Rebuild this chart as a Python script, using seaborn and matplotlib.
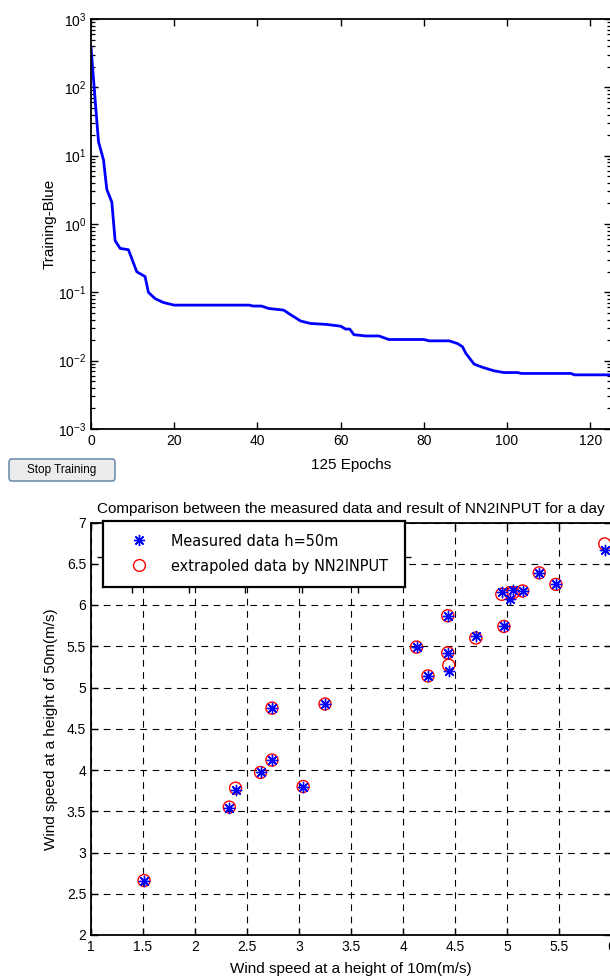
import matplotlib
matplotlib.use("Agg")
import matplotlib.pyplot as plt
import matplotlib.ticker as mticker
import seaborn as sns
import numpy as np
from matplotlib import font_manager
from matplotlib.patches import FancyBboxPatch
from matplotlib.lines import Line2D

# training curve (vertices of the plotted polyline)
epochs = [0, 1, 1.8, 3, 3.8, 5, 5.8, 7, 9, 11, 13, 13.8, 15.4, 17.4, 20, 38, 39, 41,
          42.7, 46.3, 48, 50.4, 52.8, 56.4, 60, 61.2, 62.2, 63.2, 66, 69.2, 71.6, 80,
          81.3, 86.1, 88.1, 89.3, 90.1, 92.1, 94.1, 96.9, 99.3, 102.6, 103.4, 115.4,
          116.2, 125]
perf = [390, 65, 16, 8.7, 3.2, 2.1, 0.57, 0.44, 0.42, 0.20, 0.17, 0.10, 0.081, 0.071,
        0.065, 0.065, 0.063, 0.063, 0.058, 0.055, 0.047, 0.038, 0.035, 0.034, 0.032,
        0.029, 0.029, 0.024, 0.023, 0.023, 0.0204, 0.0204, 0.0195, 0.0195, 0.0178,
        0.016, 0.0128, 0.0089, 0.0080, 0.0071, 0.0067, 0.0067, 0.0065, 0.0065,
        0.0062, 0.0062]

# wind speed comparison
wind10 = [1.51, 2.33, 2.39, 2.63, 2.74, 2.74, 3.04, 3.25, 4.13, 4.24, 4.43, 4.44,
          4.43, 4.70, 4.97, 4.95, 5.03, 5.06, 5.15, 5.31, 5.47, 5.94]
measured50 = [2.66, 3.54, 3.76, 3.97, 4.12, 4.75, 3.80, 4.80, 5.49, 5.14, 5.42, 5.20,
              5.87, 5.62, 5.74, 6.16, 6.07, 6.18, 6.17, 6.39, 6.25, 6.67]
extrap50 = [2.66, 3.55, 3.78, 3.97, 4.12, 4.75, 3.80, 4.80, 5.49, 5.14, 5.42, 5.27,
            5.87, 5.60, 5.74, 6.13, 6.15, 6.15, 6.17, 6.39, 6.25, 6.74]
x_ticklabels = ['1', '1.5', '2', '2.5', '3', '3.5', '4', '4.5', '5', '5.5', '6']
y_ticklabels = ['2', '2.5', '3', '3.5', '4', '4.5', '5', '5.5', '6', '6.5', '7']

sns.set_theme(style="ticks")
plt.rcParams['font.family'] = ['Liberation Sans', 'DejaVu Sans']
plt.rcParams.update({
    'xtick.direction': 'in', 'ytick.direction': 'in',
    'xtick.major.size': 5, 'ytick.major.size': 5,
    'xtick.minor.size': 3, 'ytick.minor.size': 3,
    'xtick.major.width': 1.0, 'ytick.major.width': 1.0,
    'xtick.minor.width': 0.9, 'ytick.minor.width': 0.9,
    'xtick.color': 'black', 'ytick.color': 'black',
    'axes.edgecolor': 'black', 'axes.linewidth': 1.3,
    'xtick.labelsize': 10, 'ytick.labelsize': 10,
    'text.color': 'black', 'axes.labelcolor': 'black',
    'axes.unicode_minus': False,
})

# a narrow face for the legend, if one is around
narrow = None
for f in font_manager.fontManager.ttflist:
    fn = f.fname.lower()
    if 'sansnarrow-regular' in fn or 'sanscondensed.ttf' in fn:
        narrow = f
        if 'narrow' in fn:
            break
if narrow is not None and 'narrow' in narrow.fname.lower():
    leg_font = font_manager.FontProperties(fname=narrow.fname, size=13.5)
elif narrow is not None:
    leg_font = font_manager.FontProperties(fname=narrow.fname, size=11.6)
else:
    leg_font = font_manager.FontProperties(family='Liberation Sans', size=12)

W, H = 610, 977
fig = plt.figure(figsize=(W / 100, H / 100), dpi=100)

def box(x0, y0, x1, y1):
    # pixel box (top-left origin) -> figure fraction
    return [x0 / W, 1 - y1 / H, (x1 - x0) / W, (y1 - y0) / H]

# top: training performance
ax1 = fig.add_axes(box(91, 19, 611, 429))
sns.lineplot(x=epochs, y=perf, ax=ax1, color=(0, 0, 1), linewidth=2.0,
             sort=False, estimator=None)
ax1.set_yscale('log')
ax1.set_xlim(0, 125)
ax1.set_ylim(1e-3, 1e3)
ax1.set_xticks([0, 20, 40, 60, 80, 100, 120])
ax1.yaxis.set_major_locator(mticker.LogLocator(base=10, numticks=10))
ax1.yaxis.set_minor_locator(mticker.LogLocator(base=10, subs=np.arange(2, 10), numticks=20))
ax1.yaxis.set_minor_formatter(mticker.NullFormatter())
ax1.tick_params(which='both', top=True, right=True)
ax1.set_ylabel('Training-Blue', fontsize=11, labelpad=1)
ax1.set_xlabel('125 Epochs', fontsize=11, labelpad=7)

# stop training button
btn = FancyBboxPatch((9 / W, 1 - 481 / H), 106 / W, 22 / H,
                     boxstyle="round,pad=0,rounding_size=0.004",
                     transform=fig.transFigure, facecolor='#ececec',
                     edgecolor='#7190b0', linewidth=1.2)
fig.patches.append(btn)
fig.text(62 / W, 1 - 470 / H, 'Stop Training', ha='center', va='center', fontsize=8.5)

# bottom: comparison scatter
ax2 = fig.add_axes(box(91, 522.5, 611, 935))
sns.scatterplot(x=wind10, y=extrap50, ax=ax2, marker='o', s=75, color='red',
                facecolors='none', edgecolors='red', linewidths=1.0, zorder=3)
sns.scatterplot(x=wind10, y=measured50, ax=ax2, marker=(8, 2, 0), s=55, color='blue',
                linewidths=1.0, zorder=4)
ax2.set_xlim(1, 6)
ax2.set_ylim(2, 7)
ax2.set_xticks(np.arange(1, 6.01, 0.5))
ax2.set_yticks(np.arange(2, 7.01, 0.5))
ax2.set_xticklabels(x_ticklabels)
ax2.set_yticklabels(y_ticklabels)
ax2.tick_params(top=True, right=True)
ax2.grid(True, color='black', linestyle=(0, (6, 5)), linewidth=0.8)
ax2.set_xlabel('Wind speed at a height of 10m(m/s)', fontsize=11, labelpad=6)
ax2.set_ylabel('Wind speed at a height of 50m(m/s)', fontsize=11, labelpad=6)
ax2.set_title('Comparison between the measured data and result of NN2INPUT for a day',
              fontsize=11, pad=7)

# legend box (drawn as its own small axes, like the MATLAB legend)
axl = fig.add_axes(box(103, 521, 405, 587))
axl.set_xlim(0, 1)
axl.set_ylim(0, 1)
for s in axl.spines.values():
    s.set_linewidth(1.6)
axl.set_xticks([0.096, 0.285, 0.47, 0.66, 0.845])
axl.set_yticks([0.45])
axl.tick_params(direction='out', length=4, labelbottom=False, labelleft=False,
                right=True, left=True, bottom=True, top=False)
handles = [Line2D([], [], linestyle='none', marker=(8, 2, 0), color='blue',
                  markersize=8, markeredgewidth=1.0),
           Line2D([], [], linestyle='none', marker='o', markerfacecolor='none',
                  markeredgecolor='red', markersize=8.5, markeredgewidth=1.0)]
fs_px = leg_font.get_size_in_points() * 100 / 72
hl = 2 * (36 - 6) / fs_px
axl.legend(handles, ['Measured data h=50m', 'extrapoled data by NN2INPUT'],
           loc='center left', bbox_to_anchor=(0.0, 0.5), frameon=False, prop=leg_font,
           borderaxespad=0, borderpad=6 / fs_px, handlelength=hl,
           handletextpad=(68 - 6 - hl * fs_px) / fs_px,
           labelspacing=max(0.1, (29 - 1.17 * fs_px) / fs_px))

fig.savefig('out.png', dpi=100)
